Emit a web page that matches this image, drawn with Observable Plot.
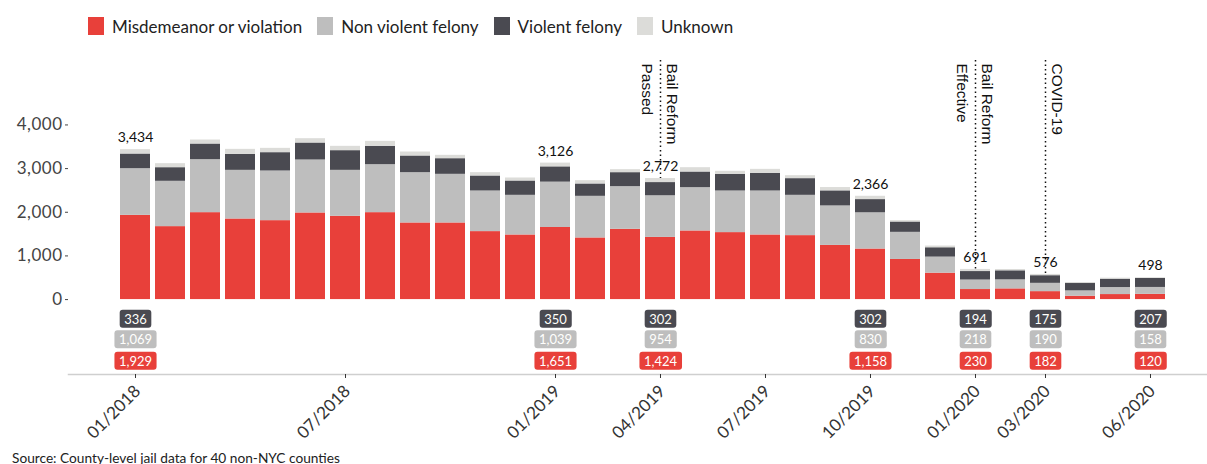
<!DOCTYPE html>
<html><head><meta charset="utf-8">
<script src="https://cdn.jsdelivr.net/npm/d3@7"></script>
<script src="https://cdn.jsdelivr.net/npm/@observablehq/plot@0.6"></script>
<style>
body{margin:0;background:#fff;width:1207px;height:464px;overflow:hidden;font-family:Lato,sans-serif;}
#legend{height:48px;display:flex;align-items:center;padding-left:88px;padding-top:4px;box-sizing:border-box;font-size:17px;color:#222;}
.item{display:flex;align-items:center;margin-right:15px;}
.sw{width:16px;height:18px;margin-right:8px;}
#chart svg{display:block;overflow:visible;}
#caption{font-size:13.7px;color:#222;padding-left:12px;line-height:16px;margin-top:6px;}
.yax text{letter-spacing:0.5px;}
</style></head><body>
<div id="legend"></div><div id="chart"></div>
<div id="caption">Source: County-level jail data for 40 non-NYC counties</div>
<script>
const months = ["01/2018","02/2018","03/2018","04/2018","05/2018","06/2018","07/2018","08/2018","09/2018","10/2018","11/2018","12/2018",
  "01/2019","02/2019","03/2019","04/2019","05/2019","06/2019","07/2019","08/2019","09/2019","10/2019","11/2019","12/2019",
  "01/2020","02/2020","03/2020","04/2020","05/2020","06/2020"];
const categories = ["Misdemeanor or violation","Non violent felony","Violent felony","Unknown"];
const colors = ["#e8403a","#bebebe","#4a4a51","#dcdcd9"];
const misd = [1929,1671,1991,1846,1808,1984,1908,1991,1755,1755,1557,1480,1651,1412,1610,1424,1572,1534,1480,1465,1241,1158,919,605,230,245,182,77,115,120];
const nvf  = [1069,1038,1214,1114,1137,1213,1052,1099,1152,1114,930,908,1039,953,977,954,992,953,1007,923,904,830,621,368,218,207,190,122,161,158];
const vf   = [336,312,358,367,420,389,451,420,382,358,344,328,350,283,320,302,358,382,405,382,345,302,237,214,194,207,175,169,191,207];
const unk  = [100,92,92,114,99,99,99,114,91,77,76,69,86,76,69,92,99,69,91,68,76,76,31,39,49,30,29,23,23,13];
const highlightMonths = ["01/2018","01/2019","04/2019","10/2019","01/2020","03/2020","06/2020"];
const xTicks = ["01/2018","07/2018","01/2019","04/2019","07/2019","10/2019","01/2020","03/2020","06/2020"];
const yTicks = [0,1000,2000,3000,4000];
const eventMonths = ["04/2019","01/2020","03/2020"];
const eventLine1 = ["Bail Reform","Bail Reform","COVID-19"];
const eventLine2 = ["Passed","Effective",""];

const series = [misd, nvf, vf, unk];
const long = [];
months.forEach((m, i) => categories.forEach((c, j) => long.push({month: m, category: c, value: series[j][i]})));
const totalOf = i => misd[i] + nvf[i] + vf[i] + unk[i];
const highlights = highlightMonths.map(m => { const i = months.indexOf(m); return {month: m, total: totalOf(i), misd: misd[i], nvf: nvf[i], vf: vf[i]}; });
const events = eventMonths.map((m, k) => ({month: m, total: totalOf(months.indexOf(m)), line1: eventLine1[k], line2: eventLine2[k]}));
const fmt = d3.format(",");
const yDomain = [-1716, 5476];

// legend
const legend = document.getElementById("legend");
categories.forEach((c, j) => {
  const it = document.createElement("div"); it.className = "item";
  const sw = document.createElement("div"); sw.className = "sw"; sw.style.background = colors[j];
  const tx = document.createElement("span"); tx.textContent = c;
  it.append(sw, tx); legend.append(it);
});

const boxFont = 13;
// slightly different whites so each row of value boxes can be found again
const boxText = ["#fffffe", "#fffffd", "#fffffc"];
const annFont = "Liberation Sans, Arial, sans-serif";
const svg = Plot.plot({
  width: 1207, height: 396,
  marginLeft: 68, marginRight: 0, marginTop: 12, marginBottom: 70,
  style: {fontFamily: "Lato, sans-serif", background: "#fff", color: "#333"},
  x: {type: "band", domain: months, padding: 0.143, insetLeft: 47, insetRight: 37, round: false, label: null},
  y: {domain: yDomain, label: null},
  color: {domain: categories, range: colors},
  marks: [
    Plot.frame({anchor: "bottom", stroke: "#cfcfcf", strokeWidth: 1.5}),
    Plot.axisY({ticks: yTicks, tickFormat: d => fmt(d), tickSize: 3, tickPadding: 3, fontSize: 17, label: null, fill: "#444", stroke: "#444", className: "yax"}),
    Plot.axisX({ticks: xTicks, tickSize: 4, tickFormat: () => "", label: null, stroke: "#333"}),
    Plot.text(xTicks, {x: d => d, text: d => d, frameAnchor: "bottom", rotate: -45, textAnchor: "end", lineAnchor: "middle", dx: 2, dy: 14, fontSize: 17, fill: "#333"}),
    Plot.barY(long, {x: "month", y: "value", fill: "category"}),
    Plot.ruleX(events, {x: "month", y1: () => yDomain[1], y2: "total", stroke: "#111", strokeWidth: 1.5, strokeDasharray: "1.5,3"}),
    Plot.text(events, {x: "month", text: "line1", frameAnchor: "top", rotate: 90, textAnchor: "start", lineAnchor: "top", dx: 18, dy: 3, fontSize: 15.5, fontFamily: annFont, fill: "#111"}),
    Plot.text(events.filter(d => d.line2), {x: "month", text: "line2", frameAnchor: "top", rotate: 90, textAnchor: "start", lineAnchor: "top", dx: -7.5, dy: 3, fontSize: 15.5, fontFamily: annFont, fill: "#111"}),
    Plot.text(highlights, {x: "month", y: "total", dy: -12, text: d => fmt(d.total), fontSize: 14, fill: "#111"}),
    Plot.text(highlights, {x: "month", text: d => fmt(d.vf), frameAnchor: "bottom", lineAnchor: "middle", dy: -55, fill: boxText[2], fontSize: boxFont}),
    Plot.text(highlights, {x: "month", text: d => fmt(d.nvf), frameAnchor: "bottom", lineAnchor: "middle", dy: -34.5, fill: boxText[1], fontSize: boxFont}),
    Plot.text(highlights, {x: "month", text: d => fmt(d.misd), frameAnchor: "bottom", lineAnchor: "middle", dy: -13, fill: boxText[0], fontSize: boxFont})
  ]
});
document.getElementById("chart").append(svg);

// rounded backgrounds behind the value boxes
const boxBg = [[boxText[2], colors[2]], [boxText[1], colors[1]], [boxText[0], colors[0]]];
for (const [tf, color] of boxBg) {
  svg.querySelectorAll(`g[fill="${tf}"] text`).forEach(t => {
    const b = t.getBBox();
    const r = document.createElementNS("http://www.w3.org/2000/svg", "rect");
    const cy = b.y + b.height / 2;
    r.setAttribute("x", b.x - 4.5);
    r.setAttribute("width", b.width + 9);
    r.setAttribute("y", cy - 9);
    r.setAttribute("height", 18);
    r.setAttribute("rx", 3);
    r.setAttribute("fill", color);
    const tr = t.getAttribute("transform");
    if (tr) r.setAttribute("transform", tr);
    t.parentNode.insertBefore(r, t);
  });
}
</script>
</body></html>
